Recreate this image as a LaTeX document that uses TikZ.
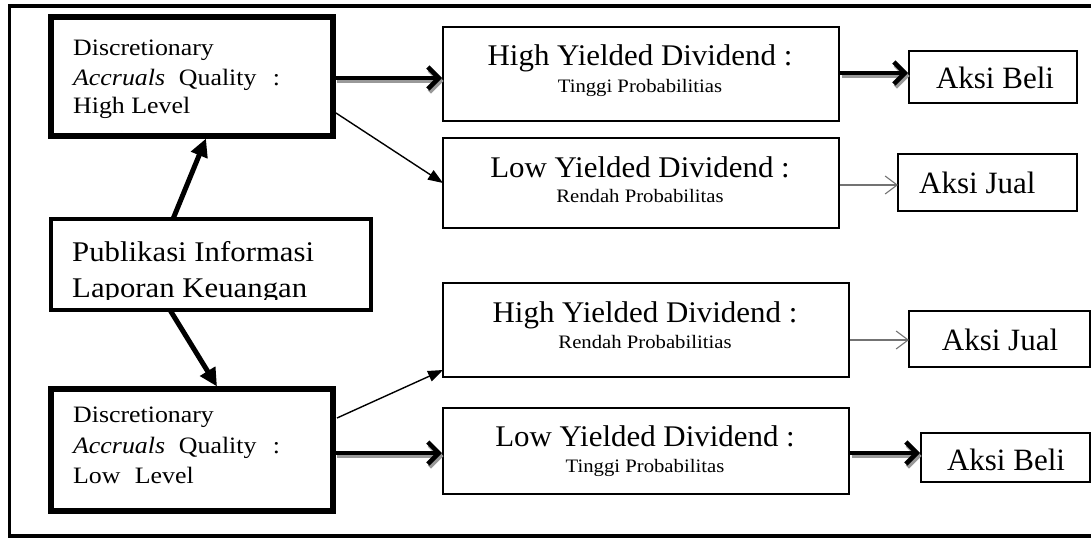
\documentclass[tikz,border=0pt]{standalone}
\usepackage{graphicx}
\usepackage{fontspec}
\setmainfont{Liberation Serif}
\usetikzlibrary{arrows.meta,calc,fit}
\newcommand\mytxt[3]{\scalebox{#2}[1]{\fontsize{#1pt}{#1pt}\selectfont #3}}
\tikzset{
  bigbox/.style={draw, line width=5.5pt, inner sep=0pt, outer sep=0pt},
  pubbox/.style={draw, line width=4.5pt, inner sep=0pt, outer sep=0pt},
  midbox/.style={draw, line width=2pt, inner sep=0pt, outer sep=0pt},
  actbox/.style={draw, line width=2pt, inner sep=0pt, outer sep=0pt},
  lbl/.style={inner sep=0pt, anchor=base west},
  clbl/.style={inner sep=0pt, anchor=base},
  heavy/.style={line width=5pt, -{Triangle[length=18pt,width=17pt]}},
  slim/.style={line width=1.4pt, -{Triangle[length=15pt,width=11pt]}},
  shadowed/.style={line width=4.5pt, -{Straight Barb[length=11pt,width=22pt]},
    preaction={draw=black!40, line width=4.5pt, -{Straight Barb[length=11pt,width=22pt]},
      transform canvas={shift={(1.5pt,-3pt)}}}},
  faint/.style={draw=black!55, line width=1.1pt, -{Straight Barb[length=12pt,width=18pt,line width=1.1pt]}},
}
\begin{document}
\begin{tikzpicture}[x=1pt,y=-1pt]
\useasboundingbox (0,0) rectangle (1091,539);
\fill[white] (0,0) rectangle (1091,539);
\draw[line width=3.5pt] (9.5,6) rectangle (1100,536);

% boxes
\node[bigbox, fit={(51,17) (333,136)}] (dh) {};
\node[pubbox, fit={(51,219) (371,310)}] (pub) {};
\node[bigbox, fit={(51,389) (333,511)}] (dl) {};
\node[midbox, fit={(443,27) (839,121)}] (hyd1) {};
\node[midbox, fit={(443,138) (839,228)}] (lyd1) {};
\node[midbox, fit={(443,283) (849,377)}] (hyd2) {};
\node[midbox, fit={(443,408) (849,494)}] (lyd2) {};
\node[actbox, fit={(909,51) (1077,103)}] (ab1) {};
\node[actbox, fit={(898,154) (1077,211)}] (aj1) {};
\node[actbox, fit={(909,311) (1090,367)}] (aj2) {};
\node[actbox, fit={(921,433) (1090,482)}] (ab2) {};

% texts
\node[lbl] (dh1) at (73,55) {\mytxt{23.5}{1.1}{Discretionary}};
\node[lbl] (dh2) at (73,85) {\mytxt{23.5}{1.1}{\textit{Accruals}\hspace{12.6pt}Quality\hspace{15pt}:}};
\node[lbl] (dh3) at (73,113) {\mytxt{23.5}{1.1}{High Level}};
\node[lbl] (dl1) at (73,422) {\mytxt{23.5}{1.1}{Discretionary}};
\node[lbl] (dl2) at (73,453) {\mytxt{23.5}{1.1}{\textit{Accruals}\hspace{12.6pt}Quality\hspace{15pt}:}};
\node[lbl] (dl3) at (73,483) {\mytxt{23.5}{1.1}{Low\hspace{13pt}Level}};
\begin{scope}
\clip (53,221) rectangle (369,299);
\node[lbl] (pub1) at (72,261) {\mytxt{28.5}{1.08}{Publikasi Informasi}};
\node[lbl] (pub2) at (72,297) {\mytxt{28.5}{1.08}{Laporan Keuangan}};
\end{scope}
\node[clbl] (h1a) at (640,65) {\mytxt{30}{1.03}{High Yielded Dividend :}};
\node[clbl] (h1b) at (640,92) {\mytxt{19}{1.09}{Tinggi Probabilitias}};
\node[clbl] (l1a) at (640,177) {\mytxt{30}{1.03}{Low Yielded Dividend :}};
\node[clbl] (l1b) at (640,202) {\mytxt{19}{1.09}{Rendah Probabilitas}};
\node[clbl] (h2a) at (645,322) {\mytxt{30}{1.03}{High Yielded Dividend :}};
\node[clbl] (h2b) at (645,348) {\mytxt{19}{1.09}{Rendah Probabilitias}};
\node[clbl] (l2a) at (645,446) {\mytxt{30}{1.03}{Low Yielded Dividend :}};
\node[clbl] (l2b) at (645,472) {\mytxt{19}{1.09}{Tinggi Probabilitas}};
\node[clbl] (ab1t) at (995,88) {\mytxt{31}{1}{Aksi Beli}};
\node[lbl] (aj1t) at (919,193) {\mytxt{31}{1}{Aksi Jual}};
\node[clbl] (aj2t) at (1000,350) {\mytxt{31}{1}{Aksi Jual}};
\node[clbl] (ab2t) at (1006,470) {\mytxt{31}{1}{Aksi Beli}};

% connectors
\draw[heavy] ($(pub.north west)+(122,0)$) -- ($(dh.south west)+(155,2.5)$);
\draw[heavy] ($(pub.south west)+(119,0)$) -- ($(dl.north west)+(166,-2.5)$);
\draw[shadowed] ($(dh.north east)+(2.5,61)$) -- ($(hyd1.north west)+(-1,51)$);
\draw[slim] ($(dh.south east)+(3,-23)$) -- (lyd1.west);
\draw[slim] ($(dl.north east)+(4,29)$) -- ($(hyd2.south west)+(0,-7)$);
\draw[shadowed] ($(dl.north east)+(2.5,64)$) -- ($(lyd2.north west)+(-1,45)$);
\draw[shadowed] ($(hyd1.north east)+(1,46)$) -- ($(ab1.north west)+(-1,22)$);
\draw[faint] ($(lyd1.north east)+(1,47)$) -- ($(aj1.north west)+(0,31)$);
\draw[faint] ($(hyd2.north east)+(1,57)$) -- ($(aj2.north west)+(0,29)$);
\draw[shadowed] ($(lyd2.north east)+(1,45)$) -- ($(ab2.north west)+(-1,20)$);
\end{tikzpicture}
\end{document}
